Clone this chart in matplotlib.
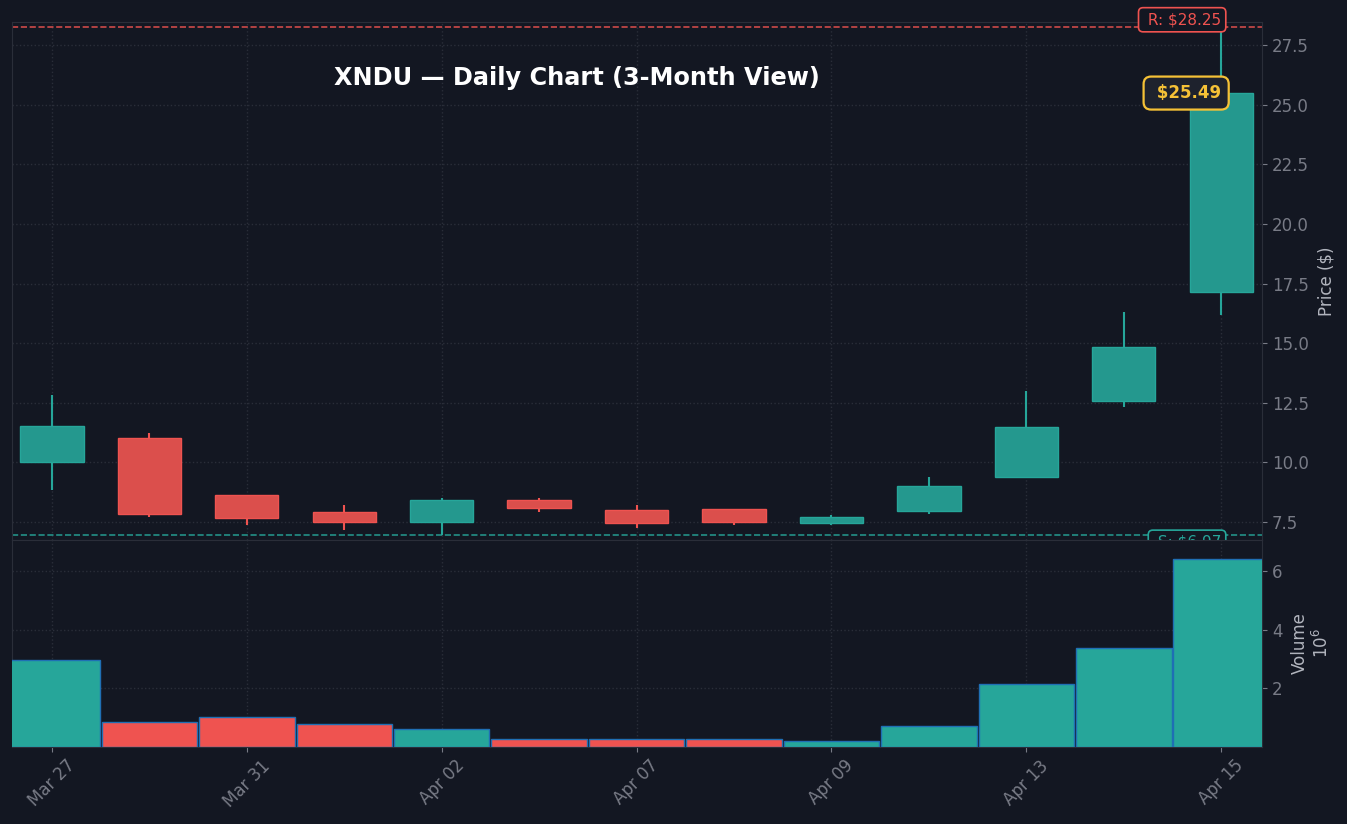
import matplotlib.pyplot as plt
from matplotlib.ticker import FuncFormatter

dates = ['Mar 27', 'Mar 30', 'Mar 31', 'Apr 01', 'Apr 02', 'Apr 06', 'Apr 07',
         'Apr 08', 'Apr 09', 'Apr 10', 'Apr 13', 'Apr 14', 'Apr 15']
opens = [10.02, 11.02, 8.63, 7.92, 7.50, 8.42, 8.00, 8.03, 7.45, 7.97, 9.39, 12.57, 17.14]
highs = [12.82, 11.23, 8.63, 8.21, 8.50, 8.50, 8.23, 8.05, 7.79, 9.40, 12.99, 16.30, 28.25]
lows = [8.84, 7.71, 7.37, 7.16, 6.97, 7.92, 7.25, 7.37, 7.37, 7.85, 9.39, 12.32, 16.20]
closes = [11.53, 7.84, 7.67, 7.50, 8.42, 8.10, 7.45, 7.51, 7.70, 9.00, 11.48, 14.84, 25.49]
volumes = [2.95e6, 0.84e6, 1.01e6, 0.77e6, 0.61e6, 0.26e6, 0.29e6, 0.29e6,
           0.19e6, 0.71e6, 2.15e6, 3.38e6, 6.41e6]
resistance = 28.25
support = 6.97

BG = '#131722'
UP = '#26a69a'
DOWN = '#ef5350'
UP_BODY = '#24988e'
DOWN_BODY = '#db4f4c'
GRID = '#2a2e39'
TXT = '#787b86'

fig = plt.figure(figsize=(13.47, 8.24), dpi=100, facecolor=BG)
gs = fig.add_gridspec(2, 1, height_ratios=[2.5, 1], hspace=0,
                      left=0.0089, right=0.937, top=0.973, bottom=0.0934)
ax = fig.add_subplot(gs[0])
axv = fig.add_subplot(gs[1], sharex=ax)

x = list(range(len(dates)))
for i in x:
    up = closes[i] >= opens[i]
    col = UP if up else DOWN
    body = UP_BODY if up else DOWN_BODY
    ax.vlines(i, lows[i], highs[i], color=col, linewidth=1.5, zorder=2)
    ax.bar(i, abs(closes[i] - opens[i]), bottom=min(opens[i], closes[i]), width=0.65,
           color=body, edgecolor=col, linewidth=1, zorder=3)
    axv.bar(i, volumes[i], width=0.98, color=col, edgecolor='#1f6fb4', linewidth=1, zorder=3)

# support / resistance
ax.axhline(resistance, color=DOWN, linestyle='--', linewidth=1.2, alpha=0.85, zorder=1)
ax.axhline(support, color=UP, linestyle='--', linewidth=1.2, alpha=0.85, zorder=1)
ax.text(12, resistance, f' R: ${resistance:.2f}', color=DOWN, fontsize=11, ha='right', va='bottom',
        clip_on=False, zorder=5,
        bbox=dict(boxstyle='round,pad=0.3', facecolor=BG, edgecolor=DOWN, linewidth=1.2))
ax.text(12, support, f' S: ${support:.2f}', color=UP, fontsize=11, ha='right', va='top',
        clip_on=False, zorder=5,
        bbox=dict(boxstyle='round,pad=0.3', facecolor=BG, edgecolor=UP, linewidth=1.2))
ax.text(12, closes[-1], f' ${closes[-1]:.2f}', color='#f5c136', fontsize=12, fontweight='bold',
        ha='right', va='center', zorder=6,
        bbox=dict(boxstyle='round,pad=0.45', facecolor='#1e222d', edgecolor='#f5c136', linewidth=1.6))

ax.text(0.452, 0.893, 'XNDU — Daily Chart (3-Month View)', transform=ax.transAxes,
        color='white', fontsize=17.3, fontweight='bold', ha='center', va='center')

for a in (ax, axv):
    a.set_facecolor(BG)
    a.grid(True, linestyle=':', color=GRID, linewidth=1)
    a.set_axisbelow(True)
    for s in a.spines.values():
        s.set_color(GRID)
    a.yaxis.tick_right()
    a.yaxis.set_label_position('right')
    a.tick_params(colors=TXT, labelsize=12)

ax.set_xlim(-0.41, 12.42)
ax.set_ylim(6.75, 28.46)
ax.set_yticks([7.5, 10, 12.5, 15, 17.5, 20, 22.5, 25, 27.5])
ax.set_ylabel('Price ($)', color='#b2b5be', fontsize=12, labelpad=6)
ax.tick_params(axis='x', labelbottom=False, length=0)

axv.set_ylim(0, max(volumes) * 1.1)
axv.set_yticks([2e6, 4e6, 6e6])
axv.yaxis.set_major_formatter(FuncFormatter(lambda v, p: f'{v / 1e6:.0f}'))
axv.set_ylabel('Volume\n$10^6$', color='#b2b5be', fontsize=12, labelpad=6)
axv.set_xticks(x[::2])
axv.set_xticklabels(dates[::2], rotation=45)

fig.savefig('out.png', dpi=100, facecolor=BG)
